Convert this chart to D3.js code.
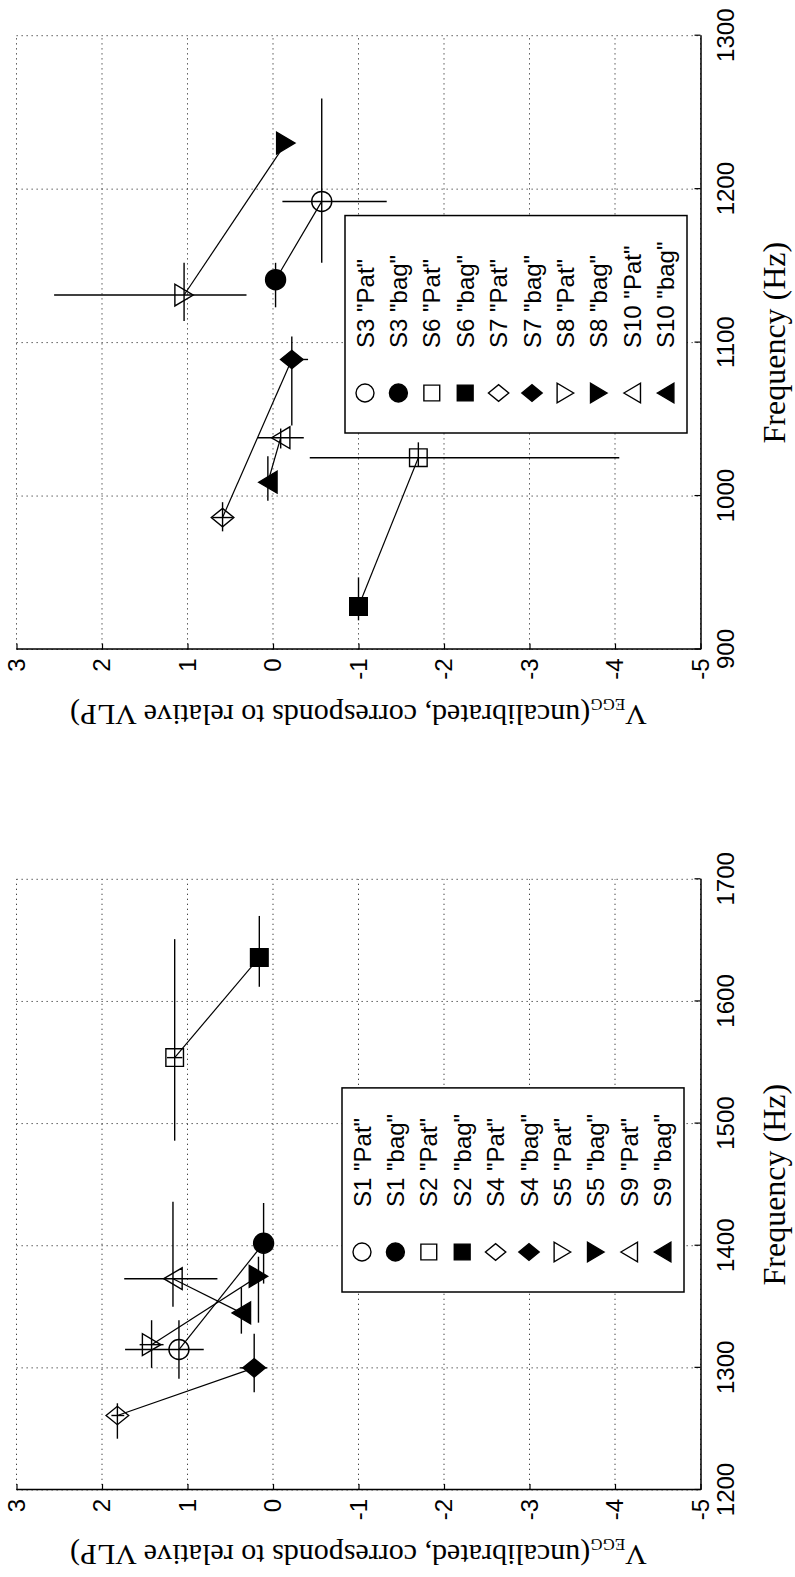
<!DOCTYPE html>
<html>
<head>
<meta charset="utf-8">
<script src="https://cdn.jsdelivr.net/npm/d3@7"></script>
<style>
  html, body { margin: 0; padding: 0; background: #fff; }
  svg { display: block; }
</style>
</head>
<body>
<svg id="fig" width="795" height="1577"></svg>
<script>
// ---- Tick values -------------------------------------------------------
const valueTicks = [-5, -4, -3, -2, -1, 0, 1, 2, 3];
const leftFreqTicks = [1200, 1300, 1400, 1500, 1600, 1700];
const rightFreqTicks = [900, 1000, 1100, 1200, 1300];

// ---- Left panel: subjects S1, S2, S4, S5, S9 ----------------------------
const leftLabels = ['S1 "Pat"', 'S1 "bag"', 'S2 "Pat"', 'S2 "bag"', 'S4 "Pat"',
                    'S4 "bag"', 'S5 "Pat"', 'S5 "bag"', 'S9 "Pat"', 'S9 "bag"'];
const leftFreq   = [1315, 1402, 1554, 1636, 1261, 1300, 1319, 1375, 1373, 1345];
const leftVegg   = [1.10, 0.11, 1.15, 0.16, 1.82, 0.22, 1.42, 0.17, 1.17, 0.37];
const leftFreqLo = [1291, 1369, 1486, 1612, 1242, 1280, 1300, 1337, 1350, 1328];
const leftFreqHi = [1339, 1435, 1651, 1670, 1271, 1328, 1339, 1391, 1436, 1366];
const leftVeggLo = [0.81, null, 1.06, null, 1.74, 0.07, 1.28, null, 0.65, null];
const leftVeggHi = [1.73, null, 1.24, null, 1.89, 0.39, 1.56, null, 1.74, null];

// ---- Right panel: subjects S3, S6, S7, S8, S10 --------------------------
const rightLabels = ['S3 "Pat"', 'S3 "bag"', 'S6 "Pat"', 'S6 "bag"', 'S7 "Pat"',
                     'S7 "bag"', 'S8 "Pat"', 'S8 "bag"', 'S10 "Pat"', 'S10 "bag"'];
const rightFreq   = [1192, 1141, 1025, 928, 986, 1089, 1131, 1230, 1038, 1009];
const rightVegg   = [-0.57, -0.03, -1.70, -1.00, 0.59, -0.22, 1.04, -0.15, -0.09, 0.06];
const rightFreqLo = [1152, 1123, 1019, 919, 977, 1046, 1114, null, 1031, 997];
const rightFreqHi = [1259, 1152, 1035, 947, 996, 1104, 1152, null, 1044, 1026];
const rightVeggLo = [-1.33, null, -4.05, null, 0.47, -0.41, 0.31, null, -0.36, null];
const rightVeggHi = [-0.11, null, -0.43, null, 0.71, -0.10, 2.56, null, 0.18, null];

// Marker per series position (Pat = open, bag = filled)
const markerShapes = ["circle", "circle", "square", "square", "diamond",
                      "diamond", "down", "down", "up", "up"];
const markerFilled = [false, true, false, true, false, true, false, true, false, true];

// ---- Figure geometry (landscape page, turned a quarter turn) -----------
const PAGE_W = 1577, PAGE_H = 795;
const svg = d3.select("#fig");
const page = svg.append("g")
  .attr("transform", `translate(0,${PAGE_W}) rotate(-90)`);

const TICK_FONT = "'Liberation Sans', Arial, Helvetica, sans-serif";
const LABEL_FONT = "'Liberation Serif', 'Times New Roman', Times, serif";

function markerPath(shape, k) {
  const p = d3.path();
  if (shape === "circle") {
    const r = 10 * k;
    p.moveTo(r, 0); p.arc(0, 0, r, 0, 2 * Math.PI); p.closePath();
  } else if (shape === "square") {
    const h = 8.8 * k;
    p.rect(-h, -h, 2 * h, 2 * h);
  } else if (shape === "diamond") {
    const ax = 9.2 * k, ay = 11.3 * k;
    p.moveTo(0, -ay); p.lineTo(ax, 0); p.lineTo(0, ay); p.lineTo(-ax, 0); p.closePath();
  } else {
    const len = 9.2 * k, half = 10.9 * k, s = shape === "down" ? 1 : -1;
    p.moveTo(0, s * len); p.lineTo(half, -s * len); p.lineTo(-half, -s * len); p.closePath();
  }
  return p.toString();
}

function drawPanel(cfg) {
  const x = d3.scaleLinear().domain(cfg.freqDomain).range([cfg.x0, cfg.x1]);
  const y = d3.scaleLinear().domain([-5, 3]).range([700.5, 16.5]);
  const g = page.append("g");

  // dotted grid
  const grid = g.append("g").attr("stroke", "#444").attr("stroke-width", 1)
    .attr("stroke-dasharray", "1.3,3.7").attr("fill", "none");
  grid.selectAll("line.gx").data(cfg.freqTicks).join("line")
    .attr("x1", d => x(d)).attr("x2", d => x(d))
    .attr("y1", y(3)).attr("y2", y(-5));
  grid.selectAll("line.gy").data(valueTicks).join("line")
    .attr("x1", cfg.x0).attr("x2", cfg.x1)
    .attr("y1", d => y(d)).attr("y2", d => y(d));

  // axes (ticks point inward)
  const xAxis = g.append("g").attr("transform", `translate(0,${y(-5)})`)
    .call(d3.axisBottom(x).tickValues(cfg.freqTicks).tickFormat(d => String(d))
      .tickSizeInner(-6).tickSizeOuter(0).tickPadding(16));
  const yAxis = g.append("g").attr("transform", `translate(${cfg.x0},0)`)
    .call(d3.axisLeft(y).tickValues(valueTicks).tickFormat(d => String(d))
      .tickSizeInner(-6).tickSizeOuter(0).tickPadding(9));
  [xAxis, yAxis].forEach(a => {
    a.select(".domain").attr("stroke", "#000").attr("stroke-width", 1.5);
    a.selectAll(".tick line").attr("stroke", "#000").attr("stroke-width", 1.2);
    a.selectAll(".tick text").attr("fill", "#000")
      .style("font-family", TICK_FONT).style("font-size", "24px");
  });

  // axis titles
  g.append("text")
    .attr("x", (cfg.x0 + cfg.x1) / 2).attr("y", 785)
    .attr("text-anchor", "middle")
    .style("font-family", LABEL_FONT).style("font-size", "32px")
    .text("Frequency (Hz)");
  const yl = g.append("text")
    .attr("transform", `translate(${cfg.x0 - 55},${(y(3) + y(-5)) / 2}) rotate(-90)`)
    .attr("text-anchor", "middle")
    .style("font-family", LABEL_FONT).style("font-size", "30px");
  yl.append("tspan").text("V");
  yl.append("tspan").attr("dy", 6).style("font-size", "17px").text("EGG");
  yl.append("tspan").attr("dy", -6).text("(uncalibrated, corresponds to relative VLP)");

  const n = cfg.freq.length;
  const idx = d3.range(n);

  // Pat -> bag connectors for each subject
  g.append("g").selectAll("line").data(d3.range(0, n, 2)).join("line")
    .attr("x1", i => x(cfg.freq[i])).attr("y1", i => y(cfg.vegg[i]))
    .attr("x2", i => x(cfg.freq[i + 1])).attr("y2", i => y(cfg.vegg[i + 1]))
    .attr("stroke", "#000").attr("stroke-width", 1.2);

  // error bars in frequency and in V_EGG
  const eb = g.append("g").attr("stroke", "#000").attr("stroke-width", 1.4);
  eb.selectAll("line.ef").data(idx.filter(i => cfg.freqLo[i] != null)).join("line")
    .attr("x1", i => x(cfg.freqLo[i])).attr("x2", i => x(cfg.freqHi[i]))
    .attr("y1", i => y(cfg.vegg[i])).attr("y2", i => y(cfg.vegg[i]));
  eb.selectAll("line.ev").data(idx.filter(i => cfg.veggLo[i] != null)).join("line")
    .attr("x1", i => x(cfg.freq[i])).attr("x2", i => x(cfg.freq[i]))
    .attr("y1", i => y(cfg.veggLo[i])).attr("y2", i => y(cfg.veggHi[i]));

  // markers
  g.append("g").selectAll("path").data(idx).join("path")
    .attr("transform", i => `translate(${x(cfg.freq[i])},${y(cfg.vegg[i])})`)
    .attr("d", i => markerPath(markerShapes[i], 1))
    .attr("fill", i => markerFilled[i] ? "#000" : "none")
    .attr("stroke", "#000").attr("stroke-width", 1.4);

  // legend
  const lg = g.append("g").attr("transform", `translate(${cfg.legendX},${cfg.legendY})`);
  const box = lg.append("rect").attr("fill", "#fff").attr("stroke", "#000").attr("stroke-width", 1.5);
  const rowY = i => 20 + i * 33.4;
  lg.selectAll("path").data(idx).join("path")
    .attr("transform", i => `translate(40,${rowY(i)})`)
    .attr("d", i => markerPath(markerShapes[i], 0.9))
    .attr("fill", i => markerFilled[i] ? "#000" : "none")
    .attr("stroke", "#000").attr("stroke-width", 1.4);
  const texts = lg.selectAll("text").data(idx).join("text")
    .attr("x", 85).attr("y", i => rowY(i)).attr("dy", "0.36em")
    .style("font-family", TICK_FONT).style("font-size", "24px")
    .text(i => cfg.labels[i]);
  let maxW = 0;
  texts.each(function () { maxW = Math.max(maxW, this.getComputedTextLength()); });
  box.attr("x", 0).attr("y", 0).attr("width", 85 + maxW + 26).attr("height", 342);
}

drawPanel({
  freqDomain: [1200, 1700], freqTicks: leftFreqTicks, x0: 87, x1: 697.7,
  labels: leftLabels, freq: leftFreq, vegg: leftVegg,
  freqLo: leftFreqLo, freqHi: leftFreqHi, veggLo: leftVeggLo, veggHi: leftVeggHi,
  legendX: 285, legendY: 342
});
drawPanel({
  freqDomain: [900, 1300], freqTicks: rightFreqTicks, x0: 927.5, x1: 1541.3,
  labels: rightLabels, freq: rightFreq, vegg: rightVegg,
  freqLo: rightFreqLo, freqHi: rightFreqHi, veggLo: rightVeggLo, veggHi: rightVeggHi,
  legendX: 1144, legendY: 345
});
</script>
</body>
</html>
